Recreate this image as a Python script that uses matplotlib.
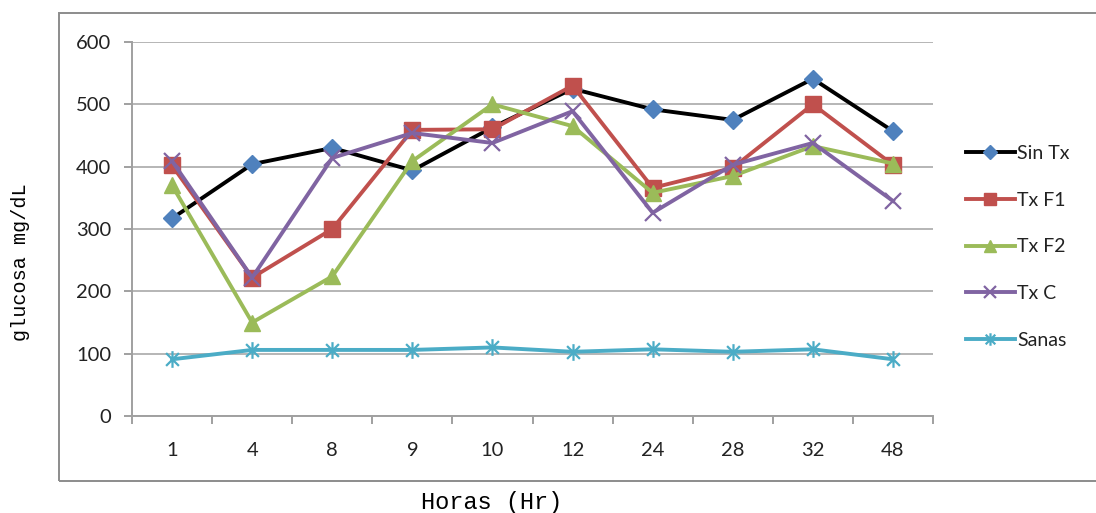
import matplotlib
matplotlib.use("Agg")
import matplotlib.pyplot as plt
from matplotlib.path import Path
from matplotlib.patches import Rectangle
import numpy as np

hours = ["1", "4", "8", "9", "10", "12", "24", "28", "32", "48"]
sin_tx = [317, 404, 430, 394, 463, 525, 492, 475, 541, 457]
tx_f1 = [402, 222, 300, 459, 460, 530, 366, 398, 500, 403]
tx_f2 = [370, 150, 224, 409, 500, 465, 358, 385, 433, 405]
tx_c = [409, 222, 414, 454, 438, 489, 326, 403, 438, 345]
sanas = [91, 106, 106, 106, 110, 103, 107, 103, 107, 91]
yticks = [0, 100, 200, 300, 400, 500, 600]

star = Path([(-1, -1), (1, 1), (-1, 1), (1, -1), (0, -1.3), (0, 1.3)],
            [Path.MOVETO, Path.LINETO, Path.MOVETO, Path.LINETO, Path.MOVETO, Path.LINETO])

fig = plt.figure(figsize=(10.96, 5.13), dpi=100)
ax = fig.add_axes([132 / 1096, 1 - 416 / 513, (933 - 132) / 1096, (416 - 42) / 513])

# outer frame
fig.patches.append(Rectangle((59 / 1096, 1 - 481 / 513), 1.2, (481 - 13) / 513,
                             transform=fig.transFigure, fill=False,
                             edgecolor="#8c8c8c", lw=1.4, clip_on=False))

x = np.arange(len(hours))
lw = 2.8
ax.plot(x, sin_tx, color="black", lw=lw, marker="D", ms=9, mfc="#4F81BD", mec="#4F81BD", label="Sin Tx", zorder=3)
ax.plot(x, tx_f1, color="#C0504D", lw=lw, marker="s", ms=11, mfc="#C0504D", mec="#C0504D", label="Tx F1", zorder=3)
ax.plot(x, tx_f2, color="#9BBB59", lw=lw, marker="^", ms=11, mfc="#9BBB59", mec="#9BBB59", label="Tx F2", zorder=3)
ax.plot(x, tx_c, color="#8064A2", lw=lw, marker="x", ms=11, mew=1.6, mec="#8064A2", label="Tx C", zorder=3)
ax.plot(x, sanas, color="#4BACC6", lw=lw, marker=star, ms=12, mew=1.6, mec="#4BACC6", label="Sanas", zorder=3)

ax.set_xlim(-0.5, len(hours) - 0.5)
ax.set_ylim(0, 600)
ax.set_yticks(yticks)
ax.set_xticks(x)
ax.set_xticklabels(hours)
ax.set_xticks(np.arange(len(hours) + 1) - 0.5, minor=True)

for s in ["top", "right"]:
    ax.spines[s].set_visible(False)
for s in ["left", "bottom"]:
    ax.spines[s].set_color("#a0a0a0")
    ax.spines[s].set_linewidth(1.4)

ax.yaxis.grid(True, color="#b5b5b5", lw=1.4)
ax.set_axisbelow(True)

ax.tick_params(axis="x", which="major", length=0, pad=19, labelsize=14.5, labelcolor="#222222")
ax.tick_params(axis="x", which="minor", length=6, width=1.4, color="#a0a0a0", direction="out")
ax.tick_params(axis="y", length=6, width=1.4, color="#a0a0a0", pad=9, labelsize=14.5, labelcolor="#222222")
for lab in ax.get_xticklabels() + ax.get_yticklabels():
    lab.set_family("Lato")

fig.text(492 / 1096, 1 - 503 / 513, "Horas (Hr)", family="Liberation Mono", fontsize=17,
         ha="center", va="center", color="black")
fig.text(21 / 1096, 1 - 262 / 513, "glucosa mg/dL", family="Liberation Mono", fontsize=14.5,
         ha="center", va="center", rotation=90, color="black")

leg = fig.legend(loc="upper left", bbox_to_anchor=(966 / 1096, 1 - 145 / 513),
                 frameon=False, borderpad=0, borderaxespad=0, handlelength=2.5,
                 handletextpad=0.12, labelspacing=1.53,
                 prop={"family": "Lato", "size": 14}, markerscale=0.75)
for t in leg.get_texts():
    t.set_color("#222222")

fig.savefig("out.png", dpi=100)
